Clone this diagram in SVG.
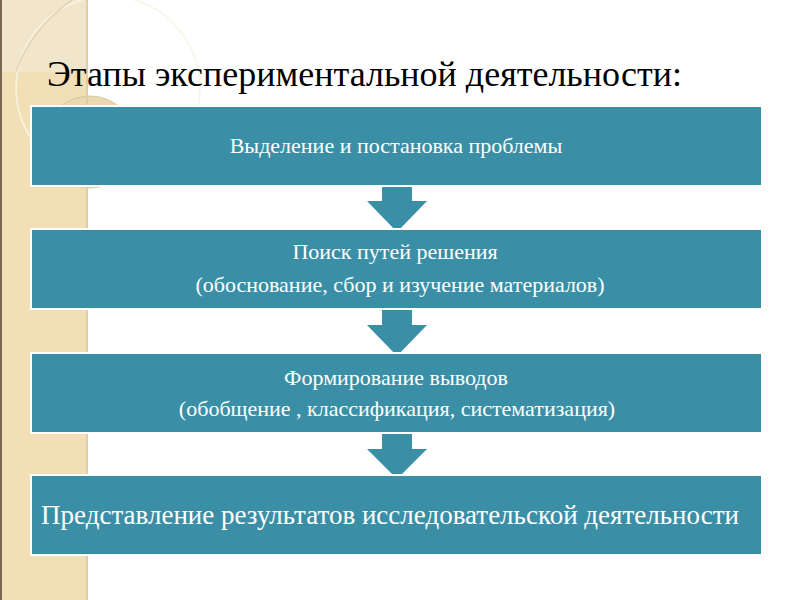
<svg xmlns="http://www.w3.org/2000/svg" width="800" height="600" viewBox="0 0 800 600">
<defs>
<style>
.box{fill:#3a8fa6;stroke:#ffffff;stroke-width:2}
.arr{fill:#3a8fa6}
.t{font-family:"Liberation Serif","Times New Roman",serif;fill:#ffffff;text-anchor:middle;font-size:22px}
.big{font-size:27px}
.title{font-family:"Liberation Serif","Times New Roman",serif;fill:#000000;font-size:36px}
</style>
</defs>
<rect x="0" y="0" width="800" height="600" fill="#ffffff"/>
<g id="strip">
<rect x="0" y="0" width="88" height="600" fill="#f2dfb6"/>
<rect x="0" y="0" width="88" height="72" fill="#f1e5cc"/>
<circle cx="108" cy="88" r="92" fill="none" stroke="#faf4e6" stroke-width="1.5"/>
<path d="M 72 0 Q 30 30 16 72" fill="none" stroke="#e3d3b0" stroke-width="1.5"/>
<circle cx="90" cy="142" r="46" fill="#ead8b2" stroke="#d9c7a0" stroke-width="1"/>
<circle cx="92" cy="142" r="36" fill="none" stroke="#f4e8cc" stroke-width="1"/>
<rect x="86" y="0" width="2" height="600" fill="#e0cda3"/>
<rect x="0" y="0" width="2" height="600" fill="#7a6753"/>
</g>
<text class="title" x="47" y="86">Этапы экспериментальной деятельности:</text>
<g id="connectors">
<polygon class="arr" points="382,185 412,185 412,201 427,201 397,232 367,201 382,201"/>
<polygon class="arr" points="382,309 412,309 412,325 427,325 397,356 367,325 382,325"/>
<polygon class="arr" points="382,433 412,433 412,449 427,449 397,479 367,449 382,449"/>
</g>
<g id="node1">
<rect class="box" x="31" y="106" width="731" height="80"/>
<text class="t" x="396" y="153">Выделение и постановка проблемы</text>
</g>
<g id="node2">
<rect class="box" x="31" y="229" width="731" height="80"/>
<text class="t" x="395" y="259">Поиск путей решения</text>
<text class="t" x="400" y="292">(обоснование, сбор и изучение материалов)</text>
</g>
<g id="node3">
<rect class="box" x="31" y="353" width="731" height="80"/>
<text class="t" x="396" y="385">Формирование выводов</text>
<text class="t" x="397" y="416">(обобщение , классификация, систематизация)</text>
</g>
<g id="node4">
<rect class="box" x="31" y="475" width="731" height="80"/>
<text class="t big" x="390" y="524">Представление результатов исследовательской деятельности</text>
</g>
</svg>
